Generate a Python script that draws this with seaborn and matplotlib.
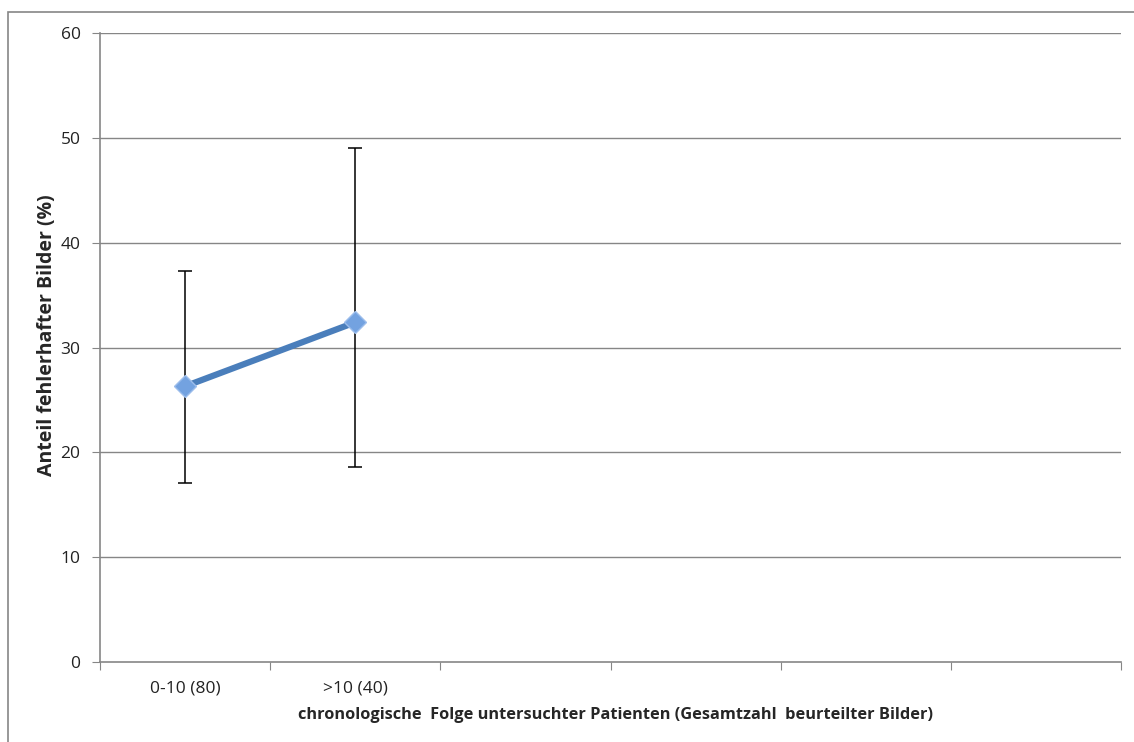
import pandas as pd
import matplotlib.pyplot as plt
import seaborn as sns
from matplotlib.patches import Rectangle

# data
categories = ["0-10 (80)", ">10 (40)"]
n_slots = 6  # the category axis has 6 slots, only 2 are filled
values = [26.3, 32.4]
err_low = [17.1, 18.6]
err_high = [37.3, 49.0]
y_ticks = [0, 10, 20, 30, 40, 50, 60]

sns.set_style("white")
plt.rcParams['font.family'] = ['Open Sans', 'DejaVu Sans']

df = pd.DataFrame({"pos": range(len(categories)), "cat": categories, "val": values})

fig = plt.figure(figsize=(11.34, 7.42), dpi=100)
ax = fig.add_axes([100 / 1134, 80 / 742, 1021 / 1134, 629 / 742])

grey = "#868686"
for y in y_ticks[1:]:
    ax.axhline(y, color=grey, lw=1, zorder=0)

# error bars
lower = [v - l for v, l in zip(values, err_low)]
upper = [h - v for v, h in zip(values, err_high)]
ax.errorbar(df["pos"], df["val"], yerr=[lower, upper], fmt="none",
            ecolor="black", elinewidth=1.1, capsize=5, capthick=1.1, zorder=2)

sns.lineplot(data=df, x="pos", y="val", ax=ax, color="#4A7EBB", lw=4.5,
             marker="D", markersize=11.5, markerfacecolor="#73A2E0",
             markeredgecolor="#9CBDEB", markeredgewidth=1, zorder=3)

ax.set_xlim(-0.5, n_slots - 0.5)
ax.set_ylim(0, 60)
ax.set_yticks(y_ticks)
ax.set_yticklabels([str(t) for t in y_ticks], fontsize=12.5, color="#222222")

# boundaries as major ticks, labels in the middle as minor ticks
ax.set_xticks([i - 0.5 for i in range(n_slots + 1)])
ax.set_xticklabels([])
ax.set_xticks(range(len(categories)), minor=True)
ax.set_xticklabels(categories, minor=True, fontsize=12.5, color="#222222")
ax.tick_params(axis="x", which="major", length=6, color=grey, direction="out", bottom=True)
ax.tick_params(axis="x", which="minor", length=0, pad=13)
ax.tick_params(axis="y", length=6, color=grey, direction="out", left=True, pad=8)

for s in ["top", "right"]:
    ax.spines[s].set_visible(False)
for s in ["left", "bottom"]:
    ax.spines[s].set_color(grey)
    ax.spines[s].set_linewidth(1.2)

ax.set_xlabel("chronologische  Folge untersuchter Patienten (Gesamtzahl  beurteilter Bilder)",
              fontsize=11.8, fontweight="bold")
ax.xaxis.set_label_coords(0.505, -0.072)
ax.set_ylabel("Anteil fehlerhafter Bilder (%)", fontsize=14, fontweight="bold")
ax.yaxis.set_label_coords(-0.042, 0.52)

# outer chart border running off the right and bottom edges
fig.patches.append(Rectangle((8 / 1134, -0.05), 1.1, (742 - 12) / 742 + 0.05,
                             transform=fig.transFigure, fill=False,
                             edgecolor=grey, lw=1.2))

fig.savefig("out.png", dpi=100)
